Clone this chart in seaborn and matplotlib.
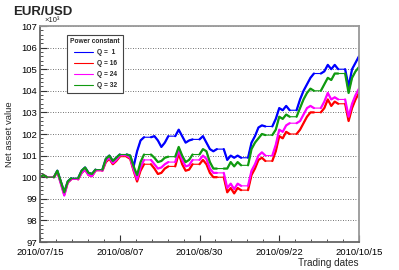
import pandas as pd
import numpy as np
import seaborn as sns
import matplotlib.pyplot as plt
import matplotlib.dates as mdates
from matplotlib.ticker import AutoMinorLocator, FixedLocator
from matplotlib.lines import Line2D

sns.set_theme(style='white')
plt.rcParams['font.family'] = ['Liberation Sans', 'DejaVu Sans']

# daily closing net asset value (x 10^3), trading days 2010/07/15 .. 2010/10/14
start_value = 100.0
q1 = [100.1, 100.0,
      100.3, 99.8, 99.3, 99.8, 99.95,
      100.3, 100.45, 100.2, 100.15, 100.35,
      100.85, 101.0, 100.75, 100.9, 101.05,
      101.0, 100.5, 101.2, 101.7, 101.85,
      101.9, 101.7, 101.4, 101.6, 101.9,
      102.2, 101.9, 101.6, 101.7, 101.75,
      101.9, 101.6, 101.3, 101.2, 101.3,
      100.8, 101.0, 100.9, 101.0, 100.9,
      101.6, 101.9, 102.3, 102.4, 102.35,
      102.7, 103.2, 103.1, 103.3, 103.1,
      103.6, 104.0, 104.3, 104.6, 104.8,
      104.9, 105.2, 105.0, 105.2, 105.0,
      104.2, 105.0, 105.3, 105.6]
q16 = [100.1, 100.0,
       100.25, 99.75, 99.2, 99.75, 99.9,
       100.2, 100.35, 100.1, 100.05, 100.3,
       100.7, 100.85, 100.6, 100.75, 100.95,
       100.85, 100.3, 99.8, 100.3, 100.6,
       100.4, 100.15, 100.2, 100.4, 100.5,
       101.1, 100.6, 100.3, 100.35, 100.6,
       100.8, 100.6, 100.2, 100.0, 100.0,
       99.3, 99.5, 99.25, 99.5, 99.4,
       100.1, 100.4, 100.8, 100.9, 100.75,
       101.2, 101.9, 101.8, 102.1, 102.0,
       102.2, 102.5, 102.8, 103.0, 103.0,
       103.2, 103.6, 103.3, 103.5, 103.4,
       102.6, 103.2, 103.6, 103.9]
q24 = [100.1, 100.0,
       100.25, 99.7, 99.15, 99.75, 99.9,
       100.2, 100.35, 100.1, 100.05, 100.3,
       100.75, 100.9, 100.65, 100.8, 101.0,
       100.9, 100.35, 99.9, 100.45, 100.8,
       100.6, 100.4, 100.45, 100.6, 100.7,
       101.25, 100.8, 100.5, 100.55, 100.8,
       101.0, 100.85, 100.4, 100.2, 100.2,
       99.5, 99.7, 99.45, 99.7, 99.6,
       100.3, 100.6, 101.0, 101.15, 101.0,
       101.5, 102.2, 102.1, 102.4, 102.5,
       102.6, 102.9, 103.2, 103.3, 103.2,
       103.5, 103.9, 103.6, 103.7, 103.6,
       102.8, 103.4, 103.8, 104.1]
q32 = [100.1, 100.0,
       100.3, 99.8, 99.3, 99.8, 99.95,
       100.3, 100.45, 100.2, 100.15, 100.35,
       100.85, 101.0, 100.75, 100.9, 101.05,
       101.0, 100.5, 100.1, 100.7, 101.05,
       100.9, 100.7, 100.75, 100.9, 100.95,
       101.4, 101.0, 100.7, 100.8, 101.05,
       101.3, 101.2, 100.7, 100.4, 100.4,
       100.4, 100.7, 100.5, 100.7, 100.55,
       101.3, 101.6, 101.8, 102.0, 101.95,
       102.2, 102.8, 102.7, 102.9, 102.8,
       103.2, 103.6, 103.9, 104.1, 104.0,
       104.3, 104.6, 104.5, 104.8, 104.8,
       103.9, 104.6, 104.9, 105.1]

labels = ['Q =  1', 'Q = 16', 'Q = 24', 'Q = 32']
colors = ['#0000ff', '#ff0000', '#ff00ff', '#109a10']
tick_dates = ['2010/07/15', '2010/08/07', '2010/08/30', '2010/09/22', '2010/10/15']

days = pd.bdate_range('2010-07-15', '2010-10-14')

rows = []
for name, closes in zip(labels, [q1, q16, q24, q32]):
    prev = start_value
    for d, c in zip(days, closes):
        wk = d.isocalendar().week
        rows.append((name, d, prev, wk))
        rows.append((name, d + pd.Timedelta(days=1), c, wk))
        prev = c
df = pd.DataFrame(rows, columns=['series', 'time', 'value', 'week'])

fig = plt.figure(figsize=(3.99, 2.70), dpi=100)
ax = fig.add_axes([40/399, 28/270, 319/399, 216/270])

pal = dict(zip(labels, colors))
# thin line incl. flat weekends
sns.lineplot(data=df, x='time', y='value', hue='series', palette=pal,
             estimator=None, sort=False, lw=0.8, legend=False, ax=ax)
# thicker trading-week segments
sns.lineplot(data=df, x='time', y='value', hue='series', palette=pal,
             units='week', estimator=None, sort=False, lw=1.6, legend=False, ax=ax)

ax.set_xlim(pd.Timestamp('2010-07-15'), pd.Timestamp('2010-10-15'))
ax.set_ylim(97, 107)

ticks = mdates.date2num(pd.to_datetime(tick_dates, format='%Y/%m/%d'))
ax.xaxis.set_major_locator(FixedLocator(ticks))
ax.xaxis.set_major_formatter(mdates.DateFormatter('%Y/%m/%d'))
ax.xaxis.set_minor_locator(AutoMinorLocator(5))
ax.yaxis.set_major_locator(FixedLocator(np.arange(97, 108)))
ax.yaxis.set_minor_locator(AutoMinorLocator(5))

ax.tick_params(which='both', direction='in', bottom=True, left=True,
               top=False, right=False, colors='#333333', labelcolor='black')
ax.tick_params(which='major', length=5, width=0.8, labelsize=6.8)
ax.tick_params(axis='x', which='major', pad=4)
ax.tick_params(axis='y', which='major', pad=2)
ax.tick_params(which='minor', length=2.5, width=0.6)

ax.yaxis.grid(True, which='major', linestyle=(0, (1, 2)), color='#444444', lw=0.6)
ax.xaxis.grid(False)

for side in ['top', 'right']:
    ax.spines[side].set_color('#999999')
    ax.spines[side].set_linewidth(1.3)
for side in ['left', 'bottom']:
    ax.spines[side].set_color('#666666')
    ax.spines[side].set_linewidth(1.3)

ax.set_ylabel('Net asset value', fontsize=6.8, labelpad=5)
ax.set_xlabel('Trading dates', fontsize=7.2, loc='right', labelpad=1)

fig.text(13/399, 1 - 12/270, 'EUR/USD', weight='bold', fontsize=9.5, va='center')
fig.text(44/399, 1 - 21/270, '×10³', fontsize=5.5, va='center')

handles = [Line2D([], [], color=c, lw=0.8) for c in colors]
leg = ax.legend(handles, labels, title='Power constant', loc='upper left',
                bbox_to_anchor=(0.085, 0.958), fontsize=4.8,
                title_fontproperties={'weight': 'bold', 'size': 4.8},
                frameon=True, fancybox=False, edgecolor='#444444', framealpha=1,
                handlelength=2.8, labelspacing=0.6, borderpad=0.5,
                handletextpad=0.6, borderaxespad=0)
leg.get_frame().set_linewidth(0.8)
for t in leg.get_texts():
    t.set_fontweight('bold')

fig.savefig('out.png', dpi=100)
